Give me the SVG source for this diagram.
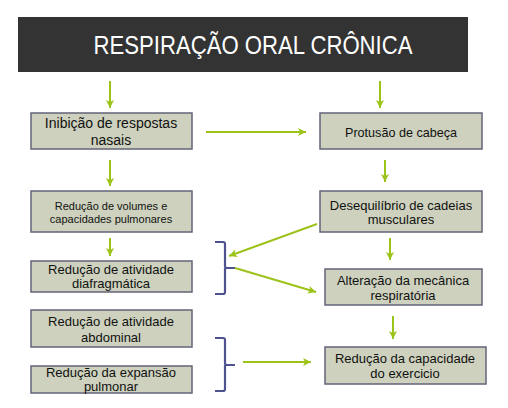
<svg xmlns="http://www.w3.org/2000/svg" width="508" height="408" viewBox="0 0 508 408">
<style>
.box{fill:#cdd1bd;stroke:#62647a;stroke-width:1.5}
.t{font-family:"Liberation Sans",Arial,sans-serif;font-size:13px;fill:#111;text-anchor:middle}
.ar{stroke:#9cc31a;stroke-width:2;fill:none;marker-end:url(#ah)}
.br{stroke:#4f5290;stroke-width:2.2;fill:none}
</style>
<defs>
<marker id="ah" markerWidth="10" markerHeight="10" viewBox="0 0 10 10" refX="9" refY="5" orient="auto" markerUnits="userSpaceOnUse">
<path d="M1,1 L9,5 L1,9 L3,5 Z" fill="#9cc31a"/>
</marker>
</defs>
<rect width="508" height="408" fill="#fff"/>
<g id="title">
<rect x="18" y="17" width="450" height="55" fill="#333333"/>
<text x="253" y="54" font-family="'Liberation Sans',Arial,sans-serif" font-size="26" fill="#fff" text-anchor="middle" textLength="319" lengthAdjust="spacingAndGlyphs">RESPIRAÇÃO ORAL CRÔNICA</text>
</g>
<g id="n1"><rect class="box" x="31" y="113" width="161" height="36"/>
<text class="t" x="111" y="128" style="font-size:14px">Inibição de respostas</text>
<text class="t" x="111" y="145" style="font-size:14px">nasais</text></g>
<g id="n2"><rect class="box" x="320" y="113" width="162" height="36"/>
<text class="t" x="401" y="137" style="font-size:12.6px">Protusão de cabeça</text></g>
<g id="n3"><rect class="box" x="31" y="191" width="161" height="41"/>
<text class="t" x="111" y="210" style="font-size:11px">Redução de volumes e</text>
<text class="t" x="111" y="223" style="font-size:11px">capacidades pulmonares</text></g>
<g id="n4"><rect class="box" x="320" y="191" width="162" height="41"/>
<text class="t" x="401" y="210">Desequilíbrio de cadeias</text>
<text class="t" x="401" y="224">musculares</text></g>
<g id="n5"><rect class="box" x="31" y="261" width="161" height="31"/>
<text class="t" x="111" y="274">Redução de atividade</text>
<text class="t" x="111" y="288">diafragmática</text></g>
<g id="n6"><rect class="box" x="325" y="269" width="157" height="36"/>
<text class="t" x="403" y="285">Alteração da mecânica</text>
<text class="t" x="403" y="300">respiratória</text></g>
<g id="n7"><rect class="box" x="31" y="310" width="161" height="37"/>
<text class="t" x="111" y="326">Redução de atividade</text>
<text class="t" x="111" y="342">abdominal</text></g>
<g id="n8"><rect class="box" x="31" y="366" width="161" height="27"/>
<text class="t" x="111" y="377">Redução da expansão</text>
<text class="t" x="111" y="391">pulmonar</text></g>
<g id="n9"><rect class="box" x="325" y="347" width="161" height="37"/>
<text class="t" x="405" y="363">Redução da capacidade</text>
<text class="t" x="405" y="378">do exercicio</text></g>
<g id="brackets">
<path class="br" d="M215,242 H223 Q225,242 225,244 V266 Q225,268 227,268 H235 M225,268 V292 Q225,294 223,294 H215"/>
<path class="br" d="M215,338 H223 Q225,338 225,340 V363 Q225,365 227,365 H235 M225,365 V389 Q225,391 223,391 H215"/>
</g>
<g id="connectors">
<line class="ar" x1="110" y1="81" x2="110" y2="108"/>
<line class="ar" x1="380" y1="81" x2="380" y2="108"/>
<line class="ar" x1="206" y1="132" x2="306" y2="132"/>
<line class="ar" x1="110" y1="160" x2="110" y2="186"/>
<line class="ar" x1="385" y1="160" x2="385" y2="182"/>
<line class="ar" x1="110" y1="238" x2="110" y2="256"/>
<line class="ar" x1="390" y1="238" x2="390" y2="260"/>
<line class="ar" x1="317" y1="224" x2="229" y2="256"/>
<line class="ar" x1="235" y1="268" x2="316" y2="292"/>
<line class="ar" x1="393" y1="316" x2="393" y2="339"/>
<line class="ar" x1="243" y1="362" x2="311" y2="362"/>
</g>
</svg>
